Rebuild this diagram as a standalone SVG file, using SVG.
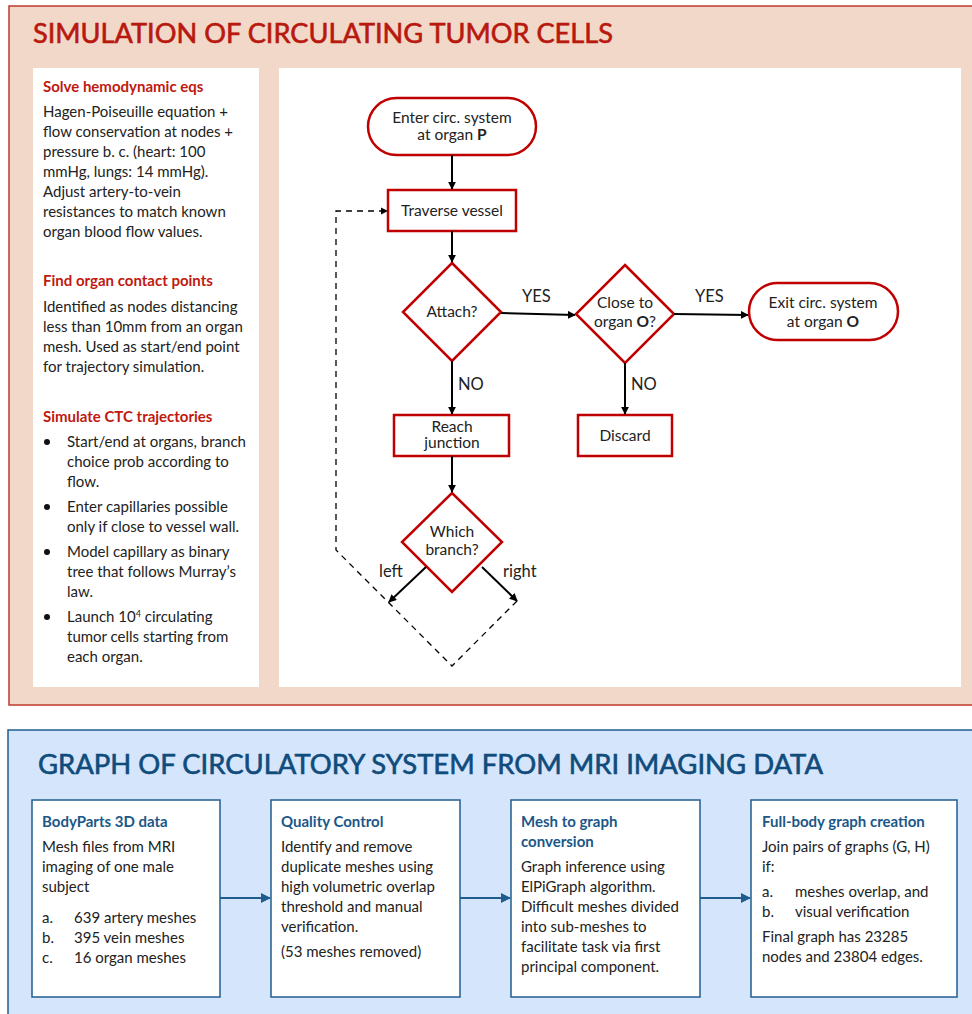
<svg xmlns="http://www.w3.org/2000/svg" width="972" height="1014" viewBox="0 0 972 1014">
<defs>
<style>
text{font-family:Lato,"Open Sans","Liberation Sans",sans-serif;}
.ttl-r{font-size:26px;fill:#b8190e;stroke:#b8190e;stroke-width:0.6;}
.ttl-b{font-size:26px;fill:#0f4c7c;stroke:#0f4c7c;stroke-width:0.6;}
.hr{font-size:15px;font-weight:bold;fill:#c0190f;}
.hb{font-size:15px;font-weight:bold;fill:#1b5788;}
.bd{font-size:15px;fill:#222;}
.fc{font-size:15.5px;fill:#222;text-anchor:middle;}
.lb{font-size:16.5px;fill:#222;}
.node{fill:#fff;stroke:#c00000;stroke-width:2.5;}
.box{fill:#fff;stroke:#1f5d8f;stroke-width:1.5;}
.arr{stroke:#000;stroke-width:2;fill:none;marker-end:url(#ah);}
.dash{stroke:#000;stroke-width:1.3;fill:none;stroke-dasharray:6,5;}
.barr{stroke:#1f5d8f;stroke-width:2;fill:none;marker-end:url(#bh);}
</style>
<marker id="ah" viewBox="0 0 10 10" refX="9" refY="5" markerWidth="4" markerHeight="4" orient="auto"><path d="M0,0L10,5L0,10z" fill="#000"/></marker>
<marker id="bh" viewBox="0 0 10 10" refX="9" refY="5" markerWidth="5" markerHeight="5" orient="auto"><path d="M0,0L10,5L0,10z" fill="#1f5d8f"/></marker>
</defs>
<rect width="972" height="1014" fill="#fff"/>
<!-- Top panel -->
<g id="panel-sim">
<rect x="9" y="6" width="975" height="699" fill="#f2d8c9" stroke="#c0392b" stroke-width="1.5"/>
<text class="ttl-r" x="33" y="43" textLength="580" lengthAdjust="spacingAndGlyphs">SIMULATION OF CIRCULATING TUMOR CELLS</text>
</g>
<g id="left-notes">
<rect x="33" y="68" width="226" height="619" fill="#fff"/>
<text class="hr" x="43" y="92">Solve hemodynamic eqs</text>
<text class="bd" x="43" y="117">Hagen-Poiseuille equation +</text>
<text class="bd" x="43" y="137">flow conservation at nodes +</text>
<text class="bd" x="43" y="157">pressure b. c. (heart: 100</text>
<text class="bd" x="43" y="177">mmHg, lungs: 14 mmHg).</text>
<text class="bd" x="43" y="197">Adjust artery-to-vein</text>
<text class="bd" x="43" y="217">resistances to match known</text>
<text class="bd" x="43" y="237">organ blood flow values.</text>
<text class="hr" x="43" y="286">Find organ contact points</text>
<text class="bd" x="43" y="312">Identified as nodes distancing</text>
<text class="bd" x="43" y="332">less than 10mm from an organ</text>
<text class="bd" x="43" y="352">mesh. Used as start/end point</text>
<text class="bd" x="43" y="372">for trajectory simulation.</text>
<text class="hr" x="43" y="422">Simulate CTC trajectories</text>
<circle cx="47" cy="442" r="3" fill="#111"/>
<text class="bd" x="67" y="447">Start/end at organs, branch</text>
<text class="bd" x="67" y="467">choice prob according to</text>
<text class="bd" x="67" y="487">flow.</text>
<circle cx="47" cy="507" r="3" fill="#111"/>
<text class="bd" x="67" y="512">Enter capillaries possible</text>
<text class="bd" x="67" y="532">only if close to vessel wall.</text>
<circle cx="47" cy="552" r="3" fill="#111"/>
<text class="bd" x="67" y="557">Model capillary as binary</text>
<text class="bd" x="67" y="577">tree that follows Murray’s</text>
<text class="bd" x="67" y="597">law.</text>
<circle cx="47" cy="617" r="3" fill="#111"/>
<text class="bd" x="67" y="622">Launch 10<tspan font-size="9" dy="-5">4</tspan><tspan dy="5"> circulating</tspan></text>
<text class="bd" x="67" y="642">tumor cells starting from</text>
<text class="bd" x="67" y="662">each organ.</text>
</g>
<g id="flow-area">
<rect x="279" y="68" width="682" height="619" fill="#fff"/>
</g>
<!-- Flowchart nodes -->
<g id="n-enter">
<rect class="node" x="368" y="98" width="168" height="57" rx="28.5"/>
<text class="fc" x="452" y="123">Enter circ. system</text>
<text class="fc" x="452" y="140">at organ <tspan font-weight="bold">P</tspan></text>
</g>
<g id="n-traverse">
<rect class="node" x="388" y="190" width="128" height="41"/>
<text class="fc" x="452" y="216">Traverse vessel</text>
</g>
<g id="n-attach">
<polygon class="node" points="452,263 501,312 452,361 403,312"/>
<text class="fc" x="452" y="317">Attach?</text>
</g>
<g id="n-close">
<polygon class="node" points="625,265 674,314 625,363 576,314"/>
<text class="fc" x="625" y="308">Close to</text>
<text class="fc" x="625" y="327">organ <tspan font-weight="bold">O</tspan>?</text>
</g>
<g id="n-exit">
<rect class="node" x="749" y="283" width="149" height="57" rx="28.5"/>
<text class="fc" x="823" y="308">Exit circ. system</text>
<text class="fc" x="823" y="327">at organ <tspan font-weight="bold">O</tspan></text>
</g>
<g id="n-discard">
<rect class="node" x="578" y="415" width="94" height="41"/>
<text class="fc" x="625" y="441">Discard</text>
</g>
<g id="n-reach">
<rect class="node" x="394" y="415" width="115" height="41"/>
<text class="fc" x="452" y="432">Reach</text>
<text class="fc" x="452" y="448">junction</text>
</g>
<g id="n-which">
<polygon class="node" points="452,493 502,542 452,592 402,542"/>
<text class="fc" x="452" y="537">Which</text>
<text class="fc" x="452" y="555">branch?</text>
</g>
<!-- Connectors -->
<g id="connectors">
<line class="arr" x1="452" y1="155" x2="452" y2="189"/>
<line class="arr" x1="452" y1="231" x2="452" y2="262"/>
<line class="arr" x1="501" y1="313" x2="575" y2="315"/>
<line class="arr" x1="674" y1="314" x2="748" y2="315"/>
<line class="arr" x1="625" y1="363" x2="625" y2="414"/>
<line class="arr" x1="452" y1="361" x2="452" y2="414"/>
<line class="arr" x1="452" y1="456" x2="452" y2="492"/>
<line class="arr" x1="426" y1="567" x2="389" y2="602"/>
<line class="arr" x1="482" y1="567" x2="517" y2="601"/>
<polyline class="dash" points="517,601 452,666 336,550 336,211 385,211"/>
<path d="M381,207.5L388,211L381,214.5z" fill="#000"/>
<text class="lb" x="522" y="302">YES</text>
<text class="lb" x="695" y="302">YES</text>
<text class="lb" x="458" y="390">NO</text>
<text class="lb" x="631" y="390">NO</text>
<text class="lb" x="379" y="577">left</text>
<text class="lb" x="503" y="577">right</text>
</g>
<!-- Bottom panel -->
<g id="panel-graph">
<rect x="8" y="730" width="975" height="300" fill="#d5e5fb" stroke="#1f5d8f" stroke-width="1.5"/>
<text class="ttl-b" x="38" y="774" textLength="785" lengthAdjust="spacingAndGlyphs">GRAPH OF CIRCULATORY SYSTEM FROM MRI IMAGING DATA</text>
</g>
<g id="b-bodyparts">
<rect class="box" x="32" y="800" width="188" height="197"/>
<text class="hb" x="42" y="827">BodyParts 3D data</text>
<text class="bd" x="42" y="852">Mesh files from MRI</text>
<text class="bd" x="42" y="872">imaging of one male</text>
<text class="bd" x="42" y="892">subject</text>
<text class="bd" x="42" y="923">a.</text><text class="bd" x="74" y="923">639 artery meshes</text>
<text class="bd" x="42" y="943">b.</text><text class="bd" x="74" y="943">395 vein meshes</text>
<text class="bd" x="42" y="963">c.</text><text class="bd" x="74" y="963">16 organ meshes</text>
</g>
<g id="b-quality">
<rect class="box" x="271" y="800" width="189" height="197"/>
<text class="hb" x="281" y="827">Quality Control</text>
<text class="bd" x="281" y="852">Identify and remove</text>
<text class="bd" x="281" y="872">duplicate meshes using</text>
<text class="bd" x="281" y="892">high volumetric overlap</text>
<text class="bd" x="281" y="912">threshold and manual</text>
<text class="bd" x="281" y="932">verification.</text>
<text class="bd" x="281" y="957">(53 meshes removed)</text>
</g>
<g id="b-mesh">
<rect class="box" x="511" y="800" width="189" height="197"/>
<text class="hb" x="521" y="827">Mesh to graph</text>
<text class="hb" x="521" y="847">conversion</text>
<text class="bd" x="521" y="872">Graph inference using</text>
<text class="bd" x="521" y="892">ElPiGraph algorithm.</text>
<text class="bd" x="521" y="912">Difficult meshes divided</text>
<text class="bd" x="521" y="932">into sub-meshes to</text>
<text class="bd" x="521" y="952">facilitate task via first</text>
<text class="bd" x="521" y="972">principal component.</text>
</g>
<g id="b-full">
<rect class="box" x="751" y="800" width="206" height="197"/>
<text class="hb" x="762" y="827">Full-body graph creation</text>
<text class="bd" x="762" y="852">Join pairs of graphs (G, H)</text>
<text class="bd" x="762" y="872">if:</text>
<text class="bd" x="762" y="897">a.</text><text class="bd" x="795" y="897">meshes overlap, and</text>
<text class="bd" x="762" y="917">b.</text><text class="bd" x="795" y="917">visual verification</text>
<text class="bd" x="762" y="942">Final graph has 23285</text>
<text class="bd" x="762" y="962">nodes and 23804 edges.</text>
</g>
<g id="b-connectors">
<line class="barr" x1="220" y1="898" x2="270" y2="898"/>
<line class="barr" x1="460" y1="898" x2="510" y2="898"/>
<line class="barr" x1="700" y1="898" x2="750" y2="898"/>
</g>
</svg>
